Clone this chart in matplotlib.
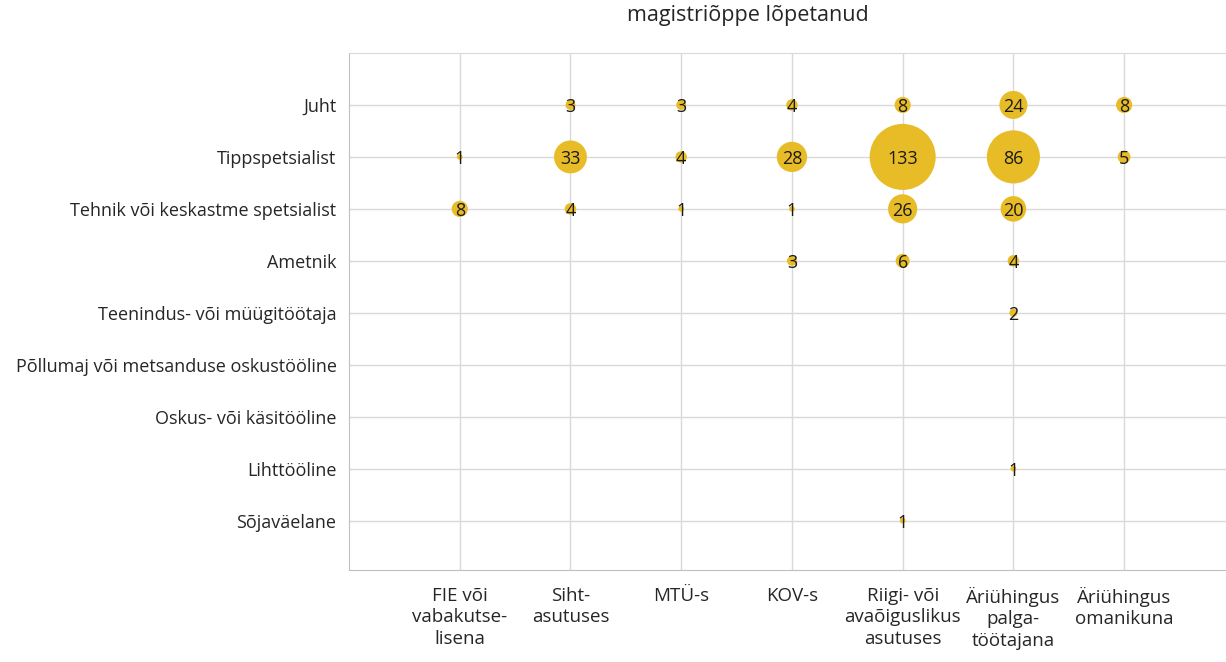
import matplotlib.pyplot as plt
import numpy as np

plt.rcParams['font.family'] = ['Open Sans', 'DejaVu Sans']

# kategooriad
ametid = ['Juht', 'Tippspetsialist', 'Tehnik või keskastme spetsialist', 'Ametnik',
          'Teenindus- või müügitöötaja', 'Põllumaj või metsanduse oskustööline',
          'Oskus- või käsitööline', 'Lihttööline', 'Sõjaväelane']
tooandjad = ['FIE või\nvabakutse-\nlisena', 'Siht-\nasutuses', 'MTÜ-s', 'KOV-s',
             'Riigi- või\navaõiguslikus\nasutuses', 'Äriühingus\npalga-\ntöötajana',
             'Äriühingus\nomanikuna']

# väärtused (0 = puudub)
juht            = [0, 3, 3, 4, 8, 24, 8]
tippspetsialist = [1, 33, 4, 28, 133, 86, 5]
tehnik          = [8, 4, 1, 1, 26, 20, 0]
ametnik         = [0, 0, 0, 3, 6, 4, 0]
teenindus       = [0, 0, 0, 0, 0, 2, 0]
pollumaj        = [0, 0, 0, 0, 0, 0, 0]
oskus           = [0, 0, 0, 0, 0, 0, 0]
lihttooline     = [0, 0, 0, 0, 0, 1, 0]
sojavaelane     = [0, 0, 0, 0, 1, 0, 0]

vaartused = np.array([juht, tippspetsialist, tehnik, ametnik, teenindus,
                      pollumaj, oskus, lihttooline, sojavaelane])

fig = plt.figure(figsize=(12.26, 6.62), dpi=100)
ax = fig.add_axes([349/1226, 1 - 570/662, 1 - 349/1226, (570 - 53)/662])

xs, ys, vs = [], [], []
for r in range(len(ametid)):
    for c in range(len(tooandjad)):
        if vaartused[r, c] > 0:
            xs.append(c + 1)
            ys.append(r + 1)
            vs.append(vaartused[r, c])

ax.scatter(xs, ys, s=np.array(vs) * 17, color='#E8BC27', zorder=3, linewidths=0)
for x, y, v in zip(xs, ys, vs):
    ax.text(x, y, str(v), ha='center', va='center_baseline', fontsize=13,
            color='#1a1a1a', zorder=4)

ax.set_xlim(0, 7.92)
ax.set_ylim(9.95, 0)
ax.set_xticks(range(1, len(tooandjad) + 1))
ax.set_xticklabels(tooandjad, fontsize=13.5, linespacing=1.25, color='#262626')
ax.set_yticks(range(1, len(ametid) + 1))
ax.set_yticklabels(ametid, fontsize=13, color='#262626')
ax.tick_params(length=0, pad=9)
ax.tick_params(axis='x', pad=12)

ax.grid(True, color='#d9d9d9', linewidth=1)
ax.set_axisbelow(True)
ax.spines['right'].set_visible(False)
ax.spines['top'].set_color('#d9d9d9')
ax.spines['left'].set_color('#bfbfbf')
ax.spines['bottom'].set_color('#bfbfbf')

fig.text(748/1226, 1 - 16/662, 'magistriõppe lõpetanud', ha='center', va='center',
         fontsize=15.5, color='#262626')

plt.savefig('out.png', dpi=100)
